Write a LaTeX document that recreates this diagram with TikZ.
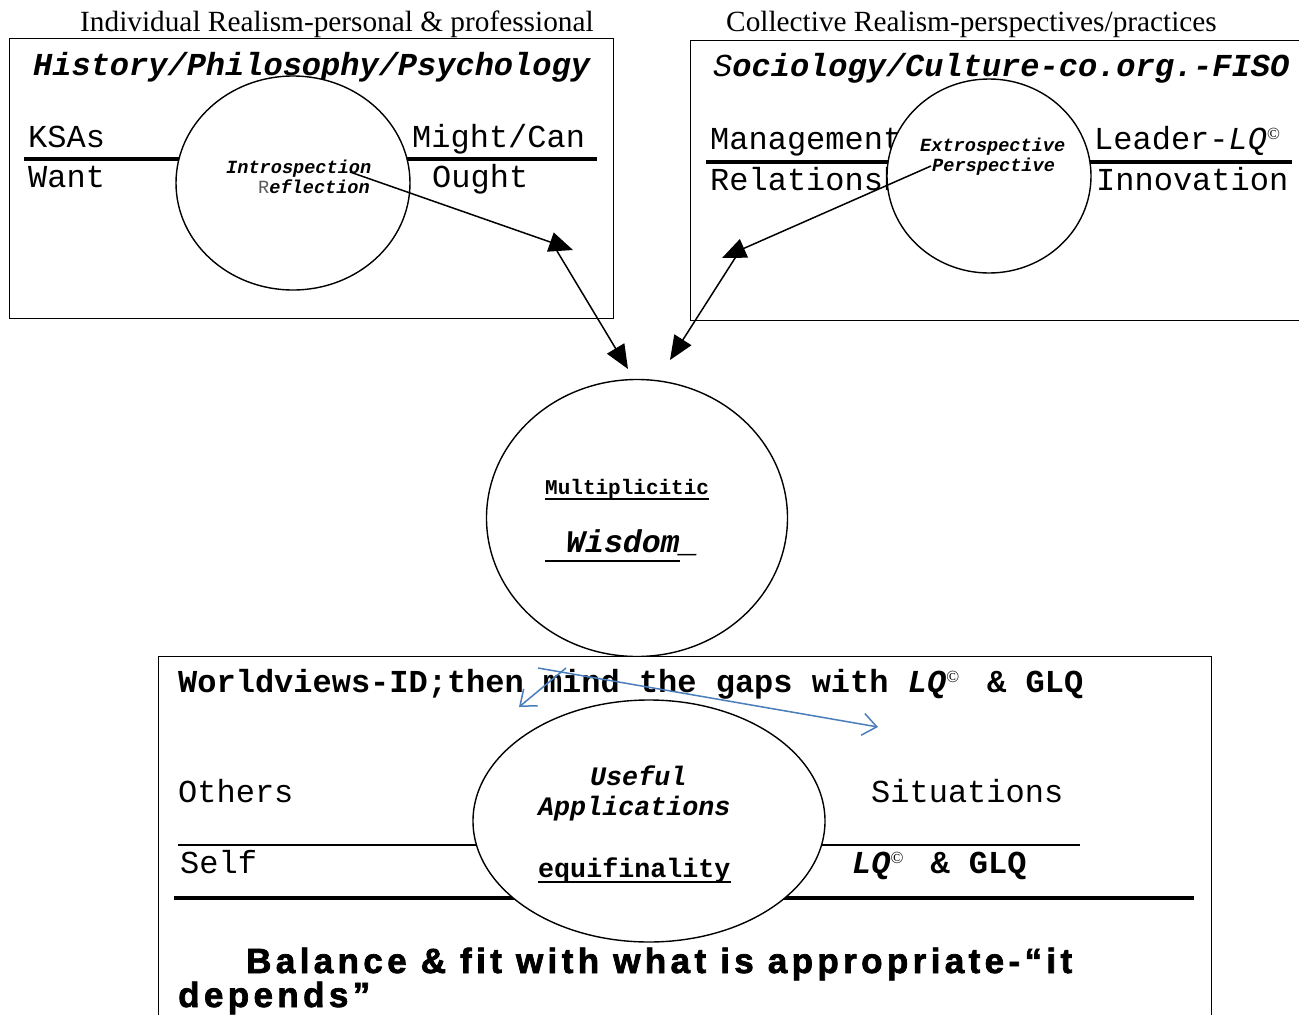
\documentclass[tikz,border=0pt]{standalone}
\usepackage{fontspec}
\setmainfont{Liberation Serif}
\newfontfamily\mono{Liberation Mono}
\newfontfamily\heavy{Liberation Sans}[LetterSpace=12.5, BoldFeatures={FakeBold=2}]
\usetikzlibrary{arrows.meta,shapes.geometric}
\definecolor{linkblue}{HTML}{4A7EBB}
\newcommand{\fsz}[1]{\fontsize{#1}{#1}\selectfont}
\newcommand{\copr}{\raisebox{10pt}{\fontsize{17}{17}\selectfont\rmfamily\upshape\mdseries ©}}

\begin{document}
\begin{tikzpicture}[x=1pt,y=-1pt,
  box/.style={draw, line width=1.4pt, fill=white, inner sep=0pt, anchor=north west},
  bubble/.style={draw, ellipse, line width=1.4pt, fill=white, inner sep=0pt},
  rule/.style={line width=4pt},
  thinrule/.style={line width=1.3pt},
  txt/.style={inner sep=0pt, anchor=base west},
  pointer/.style={line width=1.5pt, -{Triangle[length=24pt,width=20pt]}},
  bluearrow/.style={draw=linkblue, line width=1.5pt, -{Straight Barb[length=14pt,width=22pt,line width=1.5pt]}},
]
\useasboundingbox (0,0) rectangle (1299,1015);
\clip (0,0) rectangle (1299,1015);

% headings above the two upper frames
\node[txt] (indhead) at (80,31) {\fsz{29.3}Individual Realism-personal \& professional};
\node[txt] (colhead) at (726,31) {\fsz{29.3}Collective Realism-perspectives/practices};

% ---------- individual realism frame ----------
\node[box, minimum width=604pt, minimum height=280pt] (indbox) at (9,38) {};
\node[txt] (hpp) at (33,75) {\mono\bfseries\itshape\fsz{32}History/Philosophy/Psychology};
\node[txt] (ksas) at (28,147) {\mono\fsz{32}KSAs};
\node[txt] (want) at (28,187) {\mono\fsz{32}Want};
\node[txt] (might) at (412,147) {\mono\fsz{32}Might/Can};
\node[txt] (ought) at (432,187) {\mono\fsz{32}Ought};
\draw[rule] (24,159) -- (597,159);
\node[bubble, minimum width=234pt, minimum height=214pt] (intro) at (293,183) {};
\node[txt] (introtxt) at (226,173) {\mono\bfseries\itshape\fsz{18.6}Introspection};
\node[txt] (refltxt) at (258,193) {\mono\fsz{18.6}{\color{black!65}R}\bfseries\itshape eflection};

% ---------- collective realism frame ----------
\node[box, minimum width=640pt, minimum height=280pt] (colbox) at (690,40) {};
\node[txt] (soc) at (713,76) {\mono\fsz{32}\textit{S}\textbf{\textit{ociology/Culture-co.org.-FISO}}};
\node[txt] (mgmt) at (710,149) {\mono\fsz{32}Management};
\node[txt] (rel) at (710,190) {\mono\fsz{32}Relationship};
\node[txt] (leader) at (1094,149) {\mono\fsz{32}Leader-\textit{LQ}\copr};
\node[txt] (innov) at (1096,190) {\mono\fsz{32}Innovation};
\draw[rule] (706,162) -- (1292,162);
\node[bubble, minimum width=204pt, minimum height=194pt] (extro) at (989,176) {};
\node[txt] (extrotxt) at (920,151) {\mono\bfseries\itshape\fsz{18.6}Extrospective};
\node[txt] (perstxt) at (932,171) {\mono\bfseries\itshape\fsz{18.6}Perspective};

% ---------- central wisdom bubble ----------
\node[bubble, minimum width=301pt, minimum height=277pt] (wisdom) at (637,518) {};
\node[txt] (multi) at (545,494) {\mono\bfseries\fsz{21}Multiplicitic};
\draw[thinrule] ([yshift=-5pt]multi.base west) -- ([yshift=-5pt]multi.base east);
\node[txt] (wis) at (547,552) {\mono\bfseries\itshape\fsz{31.5}\hspace{19pt}Wisdom\_};
\draw[thinrule] (545,561) -- (680,561);

% connectors into the wisdom bubble
\coordinate (introTail) at (350,172);
\coordinate (introTip) at (573,250);
\coordinate (introLow) at (557,251);
\coordinate (wisLeft) at (628,369);
\coordinate (persTail) at (931,166);
\coordinate (persTip) at (722,258);
\coordinate (persLow) at (737,255);
\coordinate (wisRight) at (670,360);
\draw[pointer] (introTail) -- (introTip);
\draw[pointer] (introLow) -- (wisLeft);
\draw[pointer] (persTail) -- (persTip);
\draw[pointer] (persLow) -- (wisRight);

% ---------- useful applications frame ----------
\node[box, minimum width=1053pt, minimum height=400pt] (usebox) at (158,656) {};
\node[txt] (gaps) at (178,692) {\mono\bfseries\fsz{32}Worldviews-ID;then mind the gaps with \textit{LQ}\copr\hspace{28pt}\& GLQ};
\node[txt] (others) at (178,802) {\mono\fsz{32}Others};
\node[txt] (situ) at (871,802) {\mono\fsz{32}Situations};
\draw[thinrule] (178,845) -- (1080,845);
\node[txt] (self) at (180,873) {\mono\fsz{32}Self};
\node[txt] (lqglq) at (852,873) {\mono\bfseries\fsz{32}\textit{LQ}\copr\hspace{27pt}\& GLQ};
\draw[rule] (174,898) -- (1194,898);
\node[bubble, minimum width=352pt, minimum height=242pt] (apps) at (649,821) {};
\node[txt] (useful) at (590,785) {\mono\bfseries\itshape\fsz{26.7}Useful};
\node[txt] (applic) at (538,815) {\mono\bfseries\itshape\fsz{26.7}Applications};
\node[txt] (equi) at (538,877) {\mono\bfseries\fsz{26.7}equifinality};
\draw[thinrule] ([yshift=-5pt]equi.base west) -- ([yshift=-5pt]equi.base east);
\node[txt] (fit) at (246,973) {\heavy\bfseries\fsz{35}Balance \& fit with what is appropriate-“it};
\node[txt] (fit2) at (178,1007) {\heavy\bfseries\fsz{35}depends”};

% blue gap arrows
\coordinate (gapA) at (538,668);
\coordinate (gapAtip) at (878,727);
\coordinate (gapB) at (566,668);
\coordinate (gapBtip) at (519,707);
\draw[bluearrow] (gapA) -- (gapAtip);
\draw[bluearrow] (gapB) -- (gapBtip);
\end{tikzpicture}
\end{document}
